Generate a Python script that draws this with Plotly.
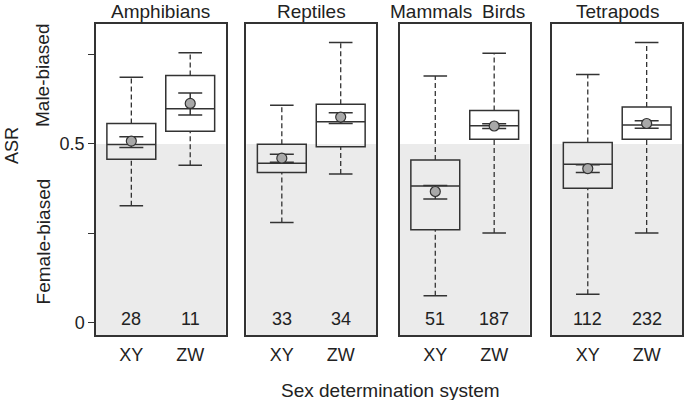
import plotly.graph_objects as go

# ---- data ----
panel_titles = ["Amphibians", "Reptiles", "Mammals", "Tetrapods"]
extra_title = "Birds"
panel_of_box = [1, 1, 2, 2, 3, 3, 4, 4]
systems = ["XY", "ZW", "XY", "ZW", "XY", "ZW", "XY", "ZW"]
lower_whisker = [0.327, 0.440, 0.280, 0.416, 0.076, 0.251, 0.080, 0.251]
q1 = [0.457, 0.535, 0.420, 0.492, 0.260, 0.513, 0.376, 0.513]
median = [0.498, 0.598, 0.446, 0.562, 0.382, 0.551, 0.443, 0.553]
q3 = [0.557, 0.691, 0.499, 0.611, 0.455, 0.593, 0.504, 0.603]
upper_whisker = [0.686, 0.755, 0.608, 0.783, 0.690, 0.753, 0.694, 0.783]
mean = [0.508, 0.613, 0.460, 0.575, 0.367, 0.550, 0.431, 0.557]
se_lower = [0.490, 0.581, 0.449, 0.557, 0.346, 0.543, 0.420, 0.544]
se_upper = [0.520, 0.642, 0.471, 0.587, 0.384, 0.556, 0.442, 0.565]
sample_n = [28, 11, 33, 34, 51, 187, 112, 232]
y_tickvals = [0, 0.25, 0.5, 0.75]
y_ticktext = ["0", "", "0.5", ""]

# ---- style ----
FONT = "Liberation Sans, Arial, sans-serif"
DARK = "#333333"
SHADE = "#ebebeb"
YMIN, YMAX = -0.034, 0.835
XMIN, XMAX = 0.4, 2.6
BOX_W = 0.83
CAP_HALF = 0.2
pos = {"XY": 1, "ZW": 2}

fig = go.Figure()

for i in range(len(systems)):
    p = panel_of_box[i]
    xa = "x" if p == 1 else f"x{p}"
    ya = "y" if p == 1 else f"y{p}"
    xc = pos[systems[i]]
    # dashed whiskers
    for a, b in [(q3[i], upper_whisker[i]), (lower_whisker[i], q1[i])]:
        fig.add_trace(go.Scatter(x=[xc, xc], y=[a, b], mode="lines",
                                 line=dict(color=DARK, width=1.3, dash="5px,3px"),
                                 xaxis=xa, yaxis=ya, hoverinfo="skip", showlegend=False))
    # caps
    for v in [upper_whisker[i], lower_whisker[i]]:
        fig.add_trace(go.Scatter(x=[xc - CAP_HALF, xc + CAP_HALF], y=[v, v], mode="lines",
                                 line=dict(color=DARK, width=1.5),
                                 xaxis=xa, yaxis=ya, hoverinfo="skip", showlegend=False))
    # box
    fig.add_trace(go.Box(x=[xc], q1=[q1[i]], median=[median[i]], q3=[q3[i]],
                         lowerfence=[q1[i]], upperfence=[q3[i]],
                         width=BOX_W, whiskerwidth=0, boxpoints=False,
                         line=dict(color=DARK, width=1.5),
                         fillcolor="rgba(0,0,0,0)",
                         xaxis=xa, yaxis=ya, hoverinfo="skip", showlegend=False))
    # mean +- SE
    fig.add_trace(go.Scatter(x=[xc], y=[mean[i]], mode="markers",
                             marker=dict(size=10, color="#a8a8a8", line=dict(color=DARK, width=1.2)),
                             error_y=dict(type="data", symmetric=False,
                                          array=[se_upper[i] - mean[i]],
                                          arrayminus=[mean[i] - se_lower[i]],
                                          width=12, thickness=1.5, color=DARK),
                             xaxis=xa, yaxis=ya, hoverinfo="skip", showlegend=False))

# layout axes
plot_w = 588.0
dom_px = [(0, 130), (151, 281), (305, 435), (458, 588)]
layout = dict(
    width=685, height=400,
    margin=dict(l=96, r=1, t=24, b=65),
    paper_bgcolor="white", plot_bgcolor="white",
    font=dict(family=FONT, size=18, color="#222222"),
    boxmode="overlay", showlegend=False,
)
shapes = []
annotations = []
for p in range(1, 5):
    xk = "xaxis" if p == 1 else f"xaxis{p}"
    yk = "yaxis" if p == 1 else f"yaxis{p}"
    xa = "x" if p == 1 else f"x{p}"
    ya = "y" if p == 1 else f"y{p}"
    d0, d1 = dom_px[p - 1]
    layout[xk] = dict(domain=[d0 / plot_w, d1 / plot_w], range=[XMIN, XMAX], anchor=ya,
                      tickmode="array", tickvals=[1, 2], ticktext=["XY", "ZW"],
                      ticks="", ticklabelstandoff=3, showgrid=False, zeroline=False,
                      showline=True, mirror=True, linecolor=DARK, linewidth=1.5,
                      tickfont=dict(size=18, color="#222222"), fixedrange=True)
    yd = dict(range=[YMIN, YMAX], anchor=xa, showgrid=False, zeroline=False,
              showline=True, mirror=True, linecolor=DARK, linewidth=1.5, fixedrange=True)
    if p == 1:
        yd.update(tickmode="array", tickvals=y_tickvals, ticktext=y_ticktext,
                  ticks="outside", ticklen=6, tickwidth=1.2, tickcolor=DARK,
                  tickfont=dict(size=18, color="#222222"))
    else:
        yd.update(matches="y", showticklabels=False, ticks="")
    layout[yk] = yd
    shapes.append(dict(type="rect", xref=f"{xa} domain", yref=ya,
                       x0=0, x1=1, y0=YMIN, y1=0.5,
                       fillcolor=SHADE, line=dict(width=0), layer="below"))

# panel titles
title_pos = [(panel_titles[0], 1, 1.5), (panel_titles[1], 2, 1.5),
             (panel_titles[2], 3, 0.93), (extra_title, 3, 2.16), (panel_titles[3], 4, 1.5)]
for txt, p, xv in title_pos:
    xa = "x" if p == 1 else f"x{p}"
    annotations.append(dict(text=txt, xref=xa, x=xv, yref="paper", y=1.0,
                            yanchor="bottom", xanchor="center", showarrow=False, yshift=0,
                            font=dict(size=19, color="#222222")))

# sample sizes
for i in range(len(systems)):
    p = panel_of_box[i]
    xa = "x" if p == 1 else f"x{p}"
    ya = "y" if p == 1 else f"y{p}"
    annotations.append(dict(text=str(sample_n[i]), xref=xa, x=pos[systems[i]],
                            yref=ya, y=0.012, yanchor="middle", showarrow=False,
                            font=dict(size=18, color="#222222")))

# axis labels
annotations.append(dict(text="Sex determination system", xref="paper", x=0.502,
                        yref="paper", y=-0.177, yanchor="middle", showarrow=False,
                        font=dict(size=19, color="#222222")))
annotations.append(dict(text="ASR", xref="paper", x=(11 - 96) / plot_w, yref="y", y=0.495,
                        textangle=-90, xanchor="center", yanchor="middle", showarrow=False,
                        font=dict(size=18, color="#222222")))
annotations.append(dict(text="Male-biased", xref="paper", x=(43 - 96) / plot_w, yref="y", y=0.693,
                        textangle=-90, xanchor="center", yanchor="middle", showarrow=False,
                        font=dict(size=19, color="#222222")))
annotations.append(dict(text="Female-biased", xref="paper", x=(43 - 96) / plot_w, yref="y", y=0.228,
                        textangle=-90, xanchor="center", yanchor="middle", showarrow=False,
                        font=dict(size=19, color="#222222")))

layout["shapes"] = shapes
layout["annotations"] = annotations
fig.update_layout(**layout)
fig.write_html("out.html", config={"displayModeBar": False},
               post_script="document.body.style.margin='0px';document.body.style.overflow='hidden';")
